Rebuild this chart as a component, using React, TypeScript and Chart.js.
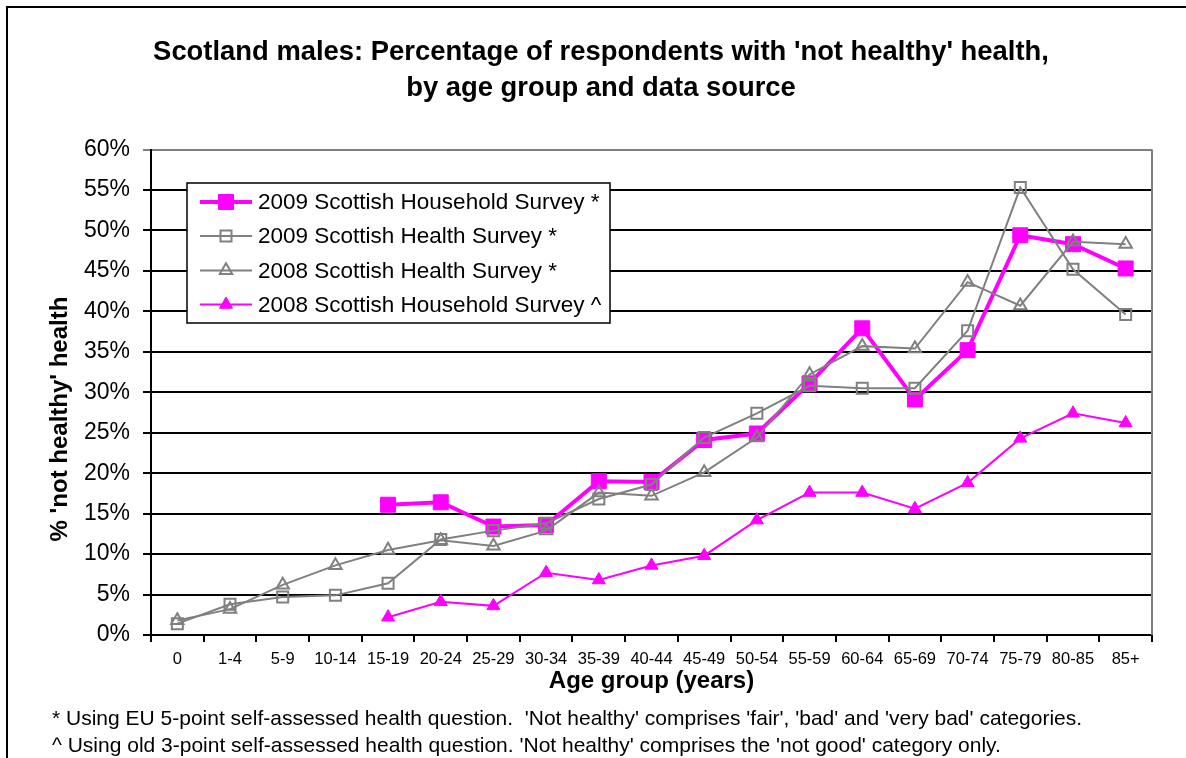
import React, { useEffect, useRef } from 'react';
import { Chart, registerables } from 'chart.js';

Chart.register(...registerables);

const ageGroups = ['0', '1-4', '5-9', '10-14', '15-19', '20-24', '25-29', '30-34', '35-39', '40-44', '45-49', '50-54', '55-59', '60-64', '65-69', '70-74', '75-79', '80-85', '85+'];
const shs2009 = [null, null, null, null, 16.1, 16.4, 13.4, 13.6, 19.0, 18.9, 24.1, 24.9, 31.1, 37.9, 29.1, 35.2, 49.4, 48.3, 45.3];
const shes2009 = [1.4, 3.8, 4.7, 4.9, 6.4, 11.8, 12.9, 13.8, 16.8, 18.6, 24.4, 27.4, 30.8, 30.5, 30.5, 37.6, 55.3, 45.2, 39.6];
const shes2008 = [1.8, 3.2, 6.2, 8.6, 10.5, 11.7, 11.0, 12.9, 17.6, 17.2, 20.1, 24.4, 32.2, 35.7, 35.4, 43.6, 40.7, 48.6, 48.3];
const shs2008 = [null, null, null, null, 2.2, 4.1, 3.6, 7.7, 6.8, 8.6, 9.8, 14.2, 17.6, 17.6, 15.6, 18.8, 24.3, 27.4, 26.2];

const seriesNames = [
  '2009 Scottish Household Survey *',
  '2009 Scottish Health Survey *',
  '2008 Scottish Health Survey *',
  '2008 Scottish Household Survey ^',
];
const titleLines = [
  "Scotland males: Percentage of respondents with 'not healthy' health,",
  'by age group and data source',
];
const yAxisTitle = "% 'not healthy' health";
const xAxisTitle = 'Age group (years)';
const footnotes = [
  "* Using EU 5-point self-assessed health question.  'Not healthy' comprises 'fair', 'bad' and 'very bad' categories.",
  "^ Using old 3-point self-assessed health question. 'Not healthy' comprises the 'not good' category only.",
];

const MAGENTA = '#FF00FF';
const GRAY = '#808080';
const FONT = "'Liberation Sans', Arial, sans-serif";

const styles = [
  { color: MAGENTA, lw: 4, point: 'rect', r: 10.6, fill: MAGENTA, pbw: 1 },
  { color: GRAY, lw: 2, point: 'rect', r: 7.8, fill: 'rgba(0,0,0,0)', pbw: 2 },
  { color: GRAY, lw: 2, point: 'triangle', r: 7.2, fill: 'rgba(0,0,0,0)', pbw: 2 },
  { color: MAGENTA, lw: 2, point: 'triangle', r: 7.5, fill: MAGENTA, pbw: 1 },
];

function drawMarker(ctx: CanvasRenderingContext2D, s: any, x: number, y: number) {
  ctx.save();
  ctx.beginPath();
  if (s.point === 'rect') {
    const h = s.r * Math.SQRT1_2;
    ctx.rect(x - h, y - h, 2 * h, 2 * h);
  } else {
    let a = 0;
    ctx.moveTo(x + Math.sin(a) * s.r, y - Math.cos(a) * s.r);
    a += (2 * Math.PI) / 3;
    ctx.lineTo(x + Math.sin(a) * s.r, y - Math.cos(a) * s.r);
    a += (2 * Math.PI) / 3;
    ctx.lineTo(x + Math.sin(a) * s.r, y - Math.cos(a) * s.r);
    ctx.closePath();
  }
  ctx.fillStyle = s.fill;
  ctx.fill();
  ctx.lineWidth = s.pbw;
  ctx.strokeStyle = s.color;
  ctx.stroke();
  ctx.restore();
}

const decorPlugin = {
  id: 'decor',
  beforeDraw(chart: any) {
    const ctx = chart.ctx;
    ctx.save();
    ctx.fillStyle = '#fff';
    ctx.fillRect(0, 0, chart.width, chart.height);
    ctx.restore();
  },
  afterDraw(chart: any) {
    const ctx: CanvasRenderingContext2D = chart.ctx;
    const ca = chart.chartArea;
    ctx.save();
    // right border of plot area
    ctx.strokeStyle = GRAY;
    ctx.lineWidth = 2;
    ctx.beginPath();
    ctx.moveTo(ca.right, ca.top);
    ctx.lineTo(ca.right, ca.bottom);
    ctx.stroke();

    // outer frame
    ctx.strokeStyle = '#000';
    ctx.lineWidth = 2;
    ctx.beginPath();
    ctx.moveTo(7, chart.height + 5);
    ctx.lineTo(7, 7);
    ctx.lineTo(chart.width + 5, 7);
    ctx.stroke();

    // title
    ctx.fillStyle = '#000';
    ctx.font = `bold 27.4px ${FONT}`;
    ctx.textAlign = 'center';
    ctx.textBaseline = 'middle';
    ctx.fillText(titleLines[0], 601, 52);
    ctx.fillText(titleLines[1], 601, 88);

    // y axis title
    ctx.save();
    ctx.translate(60, 419);
    ctx.rotate(-Math.PI / 2);
    ctx.font = `bold 24px ${FONT}`;
    ctx.textAlign = 'center';
    ctx.textBaseline = 'middle';
    ctx.fillText(yAxisTitle, 0, 0);
    ctx.restore();

    // footnotes
    ctx.font = `21px ${FONT}`;
    ctx.textAlign = 'left';
    ctx.textBaseline = 'middle';
    ctx.fillText(footnotes[0], 52, 719);
    ctx.fillText(footnotes[1], 52, 746);

    // legend
    const bx = 187, by = 183, bw = 423, bh = 140;
    ctx.fillStyle = '#fff';
    ctx.fillRect(bx, by, bw, bh);
    ctx.strokeStyle = '#000';
    ctx.lineWidth = 1.5;
    ctx.strokeRect(bx, by, bw, bh);
    const rows = [202, 236, 270.5, 304.5];
    ctx.font = `22.5px ${FONT}`;
    ctx.textBaseline = 'middle';
    rows.forEach((ry, i) => {
      const s = styles[i];
      ctx.strokeStyle = s.color;
      ctx.lineWidth = s.lw;
      ctx.beginPath();
      ctx.moveTo(200, ry);
      ctx.lineTo(252, ry);
      ctx.stroke();
      drawMarker(ctx, s, 226, ry);
      ctx.fillStyle = '#000';
      ctx.fillText(seriesNames[i], 258, ry + 1);
    });
    ctx.restore();
  },
};

export default function App() {
  const ref = useRef<HTMLCanvasElement | null>(null);
  useEffect(() => {
    if (!ref.current) return;
    const seriesData = [shs2009, shes2009, shes2008, shs2008];
    const orders = [4, 3, 2, 1];
    const chart = new Chart(ref.current, {
      type: 'line',
      data: {
        labels: ageGroups,
        datasets: seriesData.map((d, i) => ({
          label: seriesNames[i],
          data: d,
          order: orders[i],
          borderColor: styles[i].color,
          borderWidth: styles[i].lw,
          backgroundColor: styles[i].fill,
          pointStyle: styles[i].point as any,
          pointRadius: styles[i].r,
          pointHoverRadius: styles[i].r,
          pointBackgroundColor: styles[i].fill,
          pointBorderColor: styles[i].color,
          pointBorderWidth: styles[i].pbw,
          tension: 0,
          fill: false,
        })),
      },
      options: {
        responsive: false,
        animation: false,
        events: [],
        layout: { padding: { top: 149.5, left: 0, right: 34, bottom: 0 } },
        plugins: {
          legend: { display: false },
          title: { display: false },
          tooltip: { enabled: false },
        },
        scales: {
          x: {
            type: 'category',
            offset: true,
            grid: {
              offset: true,
              drawOnChartArea: false,
              drawTicks: true,
              tickLength: 7,
              color: '#000',
              lineWidth: 2,
            },
            border: { display: true, color: '#000', width: 2 },
            ticks: {
              color: '#000',
              font: { family: FONT, size: 16.5 },
              padding: 8,
              maxRotation: 0,
              autoSkip: false,
            },
            title: {
              display: true,
              text: xAxisTitle,
              color: '#000',
              font: { family: FONT, size: 24, weight: 'bold' },
              padding: { top: 0, bottom: 62 },
            },
            afterFit(scale: any) {
              scale.height = 123;
            },
          },
          y: {
            min: 0,
            max: 60,
            grid: {
              drawTicks: true,
              tickLength: 8,
              lineWidth: 2,
              color: (c: any) => (c.tick && c.tick.value === 60 ? GRAY : '#000'),
            },
            border: { display: true, color: '#000', width: 2 },
            ticks: {
              stepSize: 5,
              color: '#000',
              font: { family: FONT, size: 23 },
              padding: 13,
              callback: (v: any) => `${v}%`,
            },
            title: { display: false },
            afterFit(scale: any) {
              scale.width = 151;
            },
          },
        },
      },
      plugins: [decorPlugin],
    });
    return () => chart.destroy();
  }, []);
  return (
    <div style={{ position: 'fixed', left: 0, top: 0, width: 1186, height: 758, background: '#fff' }}>
      <canvas ref={ref} width={1186} height={758} style={{ display: 'block', width: 1186, height: 758 }} />
    </div>
  );
}
